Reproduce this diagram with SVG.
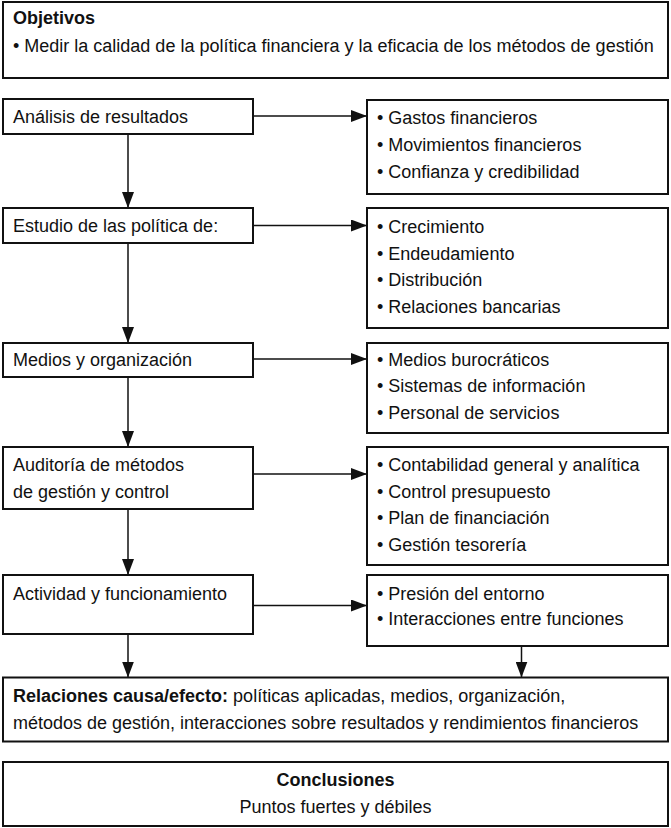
<svg xmlns="http://www.w3.org/2000/svg" width="671" height="828" viewBox="0 0 671 828">
<defs>
<style>
.box{fill:#fff;stroke:#111;stroke-width:2}
.t{font-family:"Liberation Sans",Arial,sans-serif;font-size:18px;fill:#111}
.b{font-weight:bold}
.ln{stroke:#111;stroke-width:1.5;fill:none}
</style>
<marker id="ah" viewBox="0 0 16 12" refX="16" refY="6" markerWidth="16" markerHeight="12" markerUnits="userSpaceOnUse" orient="auto">
<path d="M0,0 L16,6 L0,12 Z" fill="#111"/>
</marker>
</defs>
<rect width="671" height="828" fill="#fff"/>
<g id="connectors">
<line class="ln" x1="253" y1="116" x2="367" y2="116" marker-end="url(#ah)"/>
<line class="ln" x1="253" y1="225.5" x2="367" y2="225.5" marker-end="url(#ah)"/>
<line class="ln" x1="253" y1="359" x2="367" y2="359" marker-end="url(#ah)"/>
<line class="ln" x1="253" y1="474" x2="367" y2="474" marker-end="url(#ah)"/>
<line class="ln" x1="253" y1="605.5" x2="367" y2="605.5" marker-end="url(#ah)"/>
<line class="ln" x1="128" y1="134" x2="128" y2="208" marker-end="url(#ah)"/>
<line class="ln" x1="128" y1="243" x2="128" y2="343" marker-end="url(#ah)"/>
<line class="ln" x1="128" y1="377" x2="128" y2="447" marker-end="url(#ah)"/>
<line class="ln" x1="128" y1="509" x2="128" y2="575" marker-end="url(#ah)"/>
<line class="ln" x1="128" y1="634" x2="128" y2="677.5" marker-end="url(#ah)"/>
<line class="ln" x1="521.5" y1="646" x2="521.5" y2="677.5" marker-end="url(#ah)"/>
</g>
<g id="objetivos">
<rect class="box" x="3" y="2" width="665" height="76"/>
<text class="t b" x="13" y="24">Objetivos</text>
<text class="t" x="13" y="52">• Medir la calidad de la política financiera y la eficacia de los métodos de gestión</text>
</g>
<g id="analisis">
<rect class="box" x="3" y="99" width="250" height="35"/>
<text class="t" x="13" y="123">Análisis de resultados</text>
</g>
<g id="analisis-items">
<rect class="box" x="367" y="100" width="301" height="94"/>
<text class="t" x="377" y="124">• Gastos financieros</text>
<text class="t" x="377" y="151">• Movimientos financieros</text>
<text class="t" x="377" y="178">• Confianza y credibilidad</text>
</g>
<g id="estudio">
<rect class="box" x="3" y="208" width="250" height="35"/>
<text class="t" x="13" y="232">Estudio de las política de:</text>
</g>
<g id="estudio-items">
<rect class="box" x="367" y="208" width="301" height="120"/>
<text class="t" x="377" y="233">• Crecimiento</text>
<text class="t" x="377" y="259.5">• Endeudamiento</text>
<text class="t" x="377" y="286">• Distribución</text>
<text class="t" x="377" y="312.5">• Relaciones bancarias</text>
</g>
<g id="medios">
<rect class="box" x="3" y="343" width="250" height="34"/>
<text class="t" x="13" y="366">Medios y organización</text>
</g>
<g id="medios-items">
<rect class="box" x="367" y="343" width="301" height="90"/>
<text class="t" x="377" y="366">• Medios burocráticos</text>
<text class="t" x="377" y="392">• Sistemas de información</text>
<text class="t" x="377" y="418.5">• Personal de servicios</text>
</g>
<g id="auditoria">
<rect class="box" x="3" y="447" width="250" height="62"/>
<text class="t" x="13" y="471">Auditoría de métodos</text>
<text class="t" x="13" y="498">de gestión y control</text>
</g>
<g id="auditoria-items">
<rect class="box" x="367" y="447" width="301" height="118"/>
<text class="t" x="377" y="471">• Contabilidad general y analítica</text>
<text class="t" x="377" y="498">• Control presupuesto</text>
<text class="t" x="377" y="524">• Plan de financiación</text>
<text class="t" x="377" y="550.5">• Gestión tesorería</text>
</g>
<g id="actividad">
<rect class="box" x="3" y="575" width="250" height="59"/>
<text class="t" x="13" y="599.5">Actividad y funcionamiento</text>
</g>
<g id="actividad-items">
<rect class="box" x="367" y="575" width="301" height="71"/>
<text class="t" x="377" y="599.5">• Presión del entorno</text>
<text class="t" x="377" y="625">• Interacciones entre funciones</text>
</g>
<g id="relaciones">
<rect class="box" x="3" y="677.5" width="665" height="64"/>
<text class="t" x="13" y="702"><tspan class="b">Relaciones causa/efecto:</tspan> políticas aplicadas, medios, organización,</text>
<text class="t" x="13" y="729">métodos de gestión, interacciones sobre resultados y rendimientos financieros</text>
</g>
<g id="conclusiones">
<rect class="box" x="3" y="762" width="665" height="64"/>
<text class="t b" x="335.5" y="786" text-anchor="middle">Conclusiones</text>
<text class="t" x="335.5" y="813" text-anchor="middle">Puntos fuertes y débiles</text>
</g>
</svg>
